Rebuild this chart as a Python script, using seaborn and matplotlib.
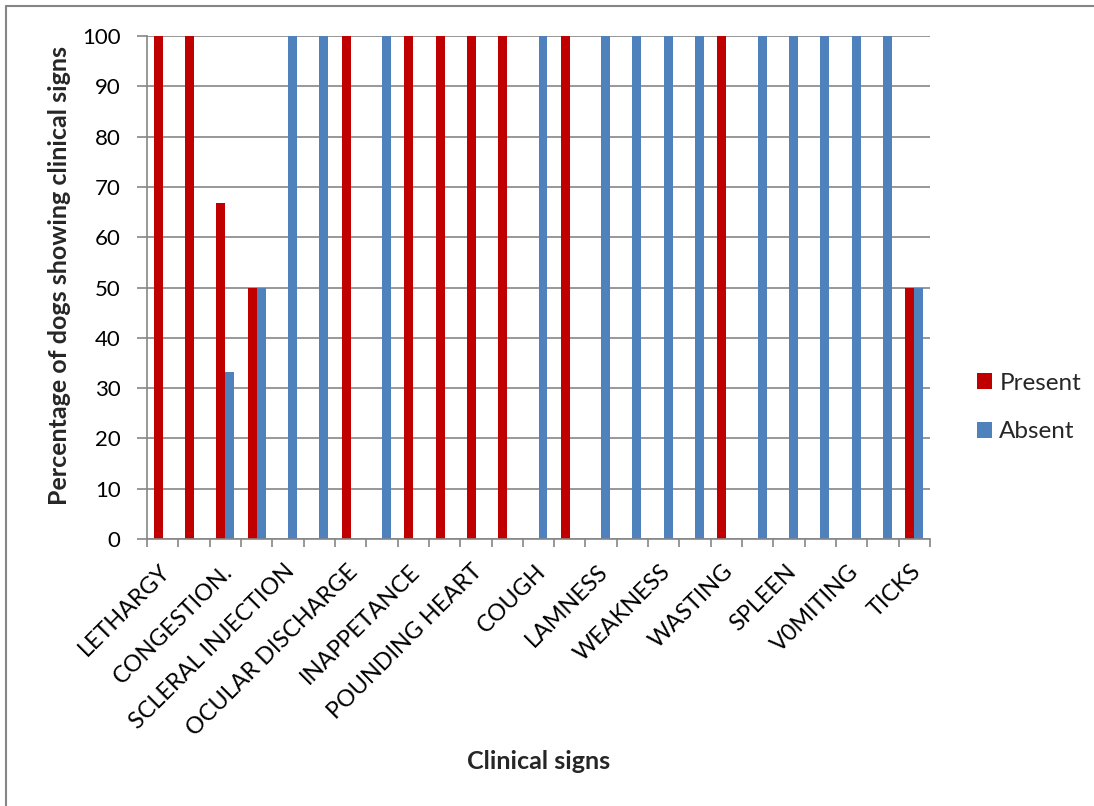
import numpy as np
import pandas as pd
import matplotlib
matplotlib.use("Agg")
import matplotlib.pyplot as plt
import seaborn as sns
from matplotlib.lines import Line2D
from matplotlib.ticker import FixedLocator
from matplotlib.transforms import ScaledTranslation

# Category slots along the x axis (every other slot carries a label)
slots = list(range(25))
tick_slots = list(range(0, 25, 2))
tick_labels = [
    "LETHARGY", "CONGESTION.", "SCLERAL INJECTION", "OCULAR DISCHARGE",
    "INAPPETANCE", "POUNDING HEART", "COUGH", "LAMNESS", "WEAKNESS",
    "WASTING", "SPLEEN", "V0MITING", "TICKS",
]

# Percentage of dogs with each sign present / absent
present = [100, 100, 66.7, 50, 0, 0, 100, 0, 100, 100, 100, 100, 0,
           100, 0, 0, 0, 0, 100, 0, 0, 0, 0, 0, 50]
absent = [0, 0, 33.3, 50, 100, 100, 0, 100, 0, 0, 0, 0, 100,
          0, 100, 100, 100, 100, 0, 100, 100, 100, 100, 100, 50]

statuses = ["Present", "Absent"]
colors = ["#C00000", "#4F81BD"]

df = pd.DataFrame({
    "slot": slots * 2,
    "status": [statuses[0]] * len(slots) + [statuses[1]] * len(slots),
    "pct": present + absent,
})

sns.set_style("white")
plt.rcParams["font.family"] = ["Lato", "DejaVu Sans"]

GRAY = "#868686"
W, H = 1094, 806
fig = plt.figure(figsize=(W / 100, H / 100), dpi=100)
ax = fig.add_axes([147 / W, 1 - 539 / H, 783 / W, 503 / H])

sns.barplot(
    data=df, x="slot", y="pct", hue="status", hue_order=statuses,
    order=slots, palette=colors, saturation=1, width=2 / 3.5,
    linewidth=0, errorbar=None, ax=ax,
)

ax.set_xlim(-0.5, 24.5)
ax.set_ylim(0, 100)
ax.set_yticks(np.arange(0, 101, 10))
ax.yaxis.grid(True, color=GRAY, linewidth=1.2)
ax.set_axisbelow(True)

for side in ("top", "right"):
    ax.spines[side].set_visible(False)
for side in ("left", "bottom"):
    ax.spines[side].set_color(GRAY)
    ax.spines[side].set_linewidth(1.2)

# Category labels on even slots, tick marks between categories
ax.set_xticks(tick_slots, tick_labels)
ax.xaxis.set_minor_locator(FixedLocator(np.arange(-0.5, 25, 1)))
ax.tick_params(axis="x", which="major", bottom=True, length=0, pad=21,
               labelsize=16.8, labelcolor="black")
ax.tick_params(axis="x", which="minor", bottom=True, length=6, width=1.2,
               color=GRAY, direction="out")
ax.tick_params(axis="y", left=True, length=7, width=1.2, color=GRAY,
               direction="out", pad=12, labelsize=16, labelcolor="black")

shift = ScaledTranslation(2.5 / 72, 0, fig.dpi_scale_trans)
for lab in ax.get_xticklabels():
    lab.set_rotation(45)
    lab.set_ha("right")
    lab.set_va("center")
    lab.set_rotation_mode("anchor")
    lab.set_transform(lab.get_transform() + shift)

ax.set_xlabel("Clinical signs", fontsize=18, fontweight="bold")
ax.xaxis.set_label_coords(0.5, -0.419)
ax.set_ylabel("Percentage of dogs showing clinical signs", fontsize=18,
              fontweight="bold")
ax.yaxis.set_label_coords(-0.097, 0.523)

handles, labels = ax.get_legend_handles_labels()
ax.get_legend().remove()
fig.legend(
    handles, labels, loc="center left",
    bbox_to_anchor=(977 / W, 1 - 407.5 / H), frameon=False,
    fontsize=17.5, handlelength=0.62, handleheight=0.62,
    handletextpad=0.3, labelspacing=1.13, borderpad=0, borderaxespad=0,
)

# Chart-area frame (top and left edges)
fig.add_artist(Line2D([6 / W, 1.0], [1 - 6 / H, 1 - 6 / H],
                      transform=fig.transFigure, color=GRAY, linewidth=1.5))
fig.add_artist(Line2D([6 / W, 6 / W], [0.0, 1 - 6 / H],
                      transform=fig.transFigure, color=GRAY, linewidth=1.5))

fig.savefig("out.png", dpi=100)
